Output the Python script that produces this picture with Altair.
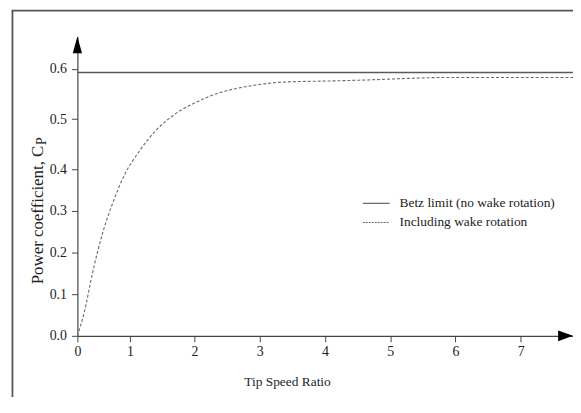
import altair as alt
import pandas as pd

# ---- data ----
tsr_wake = [0, 0.13, 0.29, 0.48, 0.67, 0.89, 1.14, 1.4, 1.7, 2.0, 2.4, 2.9, 3.4, 4.1, 4.65, 5.25, 5.9, 7.0, 7.8]
cp_wake = [0, 0.056, 0.152, 0.247, 0.318, 0.385, 0.435, 0.477, 0.510, 0.532, 0.553, 0.567, 0.574, 0.576, 0.578, 0.581, 0.583, 0.583, 0.583]
tsr_betz = [0, 7.8]
cp_betz = [0.593, 0.593]
series_names = ["Betz limit (no wake rotation)", "Including wake rotation"]
x_ticks = [0, 1, 2, 3, 4, 5, 6, 7]
y_ticks = [0.0, 0.1, 0.2, 0.3, 0.4, 0.5, 0.6]
x_title = "Tip Speed Ratio"
y_title_main = "Power coefficient, C"
y_title_sub = "P"

FONT = "Liberation Serif"
W, H = 500, 302

df = pd.concat([
    pd.DataFrame({"tsr": tsr_betz, "cp": cp_betz, "series": series_names[0], "order": range(len(tsr_betz))}),
    pd.DataFrame({"tsr": tsr_wake, "cp": cp_wake, "series": series_names[1], "order": range(len(tsr_wake))}),
])
one = pd.DataFrame({"k": [0]})

xscale = alt.Scale(domain=[0, 1, 2, 7.8], range=[0, 53, 118, W], nice=False, zero=False)
yscale = alt.Scale(domain=[0, 0.4, 0.6646], range=[H, 134, 0], nice=False, zero=False)

lines = alt.Chart(df).mark_line(interpolate="monotone").encode(
    x=alt.X("tsr:Q", scale=xscale,
            axis=alt.Axis(values=x_ticks, title=x_title, grid=False, labelFlush=False,
                          tickSize=6, labelPadding=3, titleX=211.5, titleY=50,
                          titleBaseline="alphabetic", titleAlign="center")),
    y=alt.Y("cp:Q", scale=yscale,
            axis=alt.Axis(values=y_ticks, format=".1f", title=None, grid=False, labelFlush=False,
                          tickSize=6, labelPadding=5)),
    detail="series:N",
    order="order:Q",
    strokeDash=alt.StrokeDash("series:N", scale=alt.Scale(domain=series_names, range=[[1, 0], [3, 2]]), legend=None),
    strokeWidth=alt.StrokeWidth("series:N", scale=alt.Scale(domain=series_names, range=[1.5, 1.1]), legend=None),
    color=alt.Color("series:N", scale=alt.Scale(domain=series_names, range=["#5a5a5a", "#6a6a6a"]), legend=None),
)

# arrows on the axes
arrow_y = alt.Chart(one).mark_point(shape="M -0.55 1 L 0 -1 L 0.55 1 Z", filled=True, color="#000", opacity=1, size=289, strokeWidth=0).encode(
    x=alt.value(0), y=alt.value(8.5))
arrow_x = alt.Chart(one).mark_point(shape="M -1 -0.73 L 1 0 L -1 0.73 Z", filled=True, color="#000", opacity=1, size=225, strokeWidth=0).encode(
    x=alt.value(W - 7.5), y=alt.value(H))

# frame (left and top lines)
frame_left = alt.Chart(one).mark_rule(color="#555", strokeWidth=1.8).encode(
    x=alt.value(-65.5), y=alt.value(-26), y2=alt.value(H + 80))
frame_top = alt.Chart(one).mark_rule(color="#555", strokeWidth=1.8).encode(
    x=alt.value(-66.4), x2=alt.value(W + 10), y=alt.value(-26))

# y title with subscript
ytitle = alt.Chart(one).mark_text(font=FONT, fontSize=17, angle=270, align="left", baseline="alphabetic", color="#222").encode(
    x=alt.value(-35), y=alt.value(250), text=alt.value(y_title_main))
ytitle_sub = alt.Chart(one).mark_text(font=FONT, fontSize=14, angle=270, align="left", baseline="alphabetic", color="#222").encode(
    x=alt.value(-32), y=alt.value(109.5), text=alt.value(y_title_sub))

# legend
leg_line1 = alt.Chart(one).mark_rule(color="#444", strokeWidth=1).encode(
    x=alt.value(288), x2=alt.value(315), y=alt.value(168.3))
leg_line2 = alt.Chart(one).mark_rule(color="#666", strokeWidth=1, strokeDash=[2, 1]).encode(
    x=alt.value(288), x2=alt.value(315), y=alt.value(187.7))
leg_text1 = alt.Chart(one).mark_text(font=FONT, fontSize=13.5, align="left", baseline="middle", color="#222").encode(
    x=alt.value(325), y=alt.value(168.5), text=alt.value(series_names[0]))
leg_text2 = alt.Chart(one).mark_text(font=FONT, fontSize=13.5, align="left", baseline="middle", color="#222").encode(
    x=alt.value(325), y=alt.value(187.5), text=alt.value(series_names[1]))

chart = alt.layer(
    frame_left, frame_top, lines, arrow_y, arrow_x, ytitle, ytitle_sub,
    leg_line1, leg_line2, leg_text1, leg_text2,
).properties(
    width=W, height=H,
    autosize=alt.AutoSizeParams(type="none"),
    padding={"left": 70, "top": 27, "right": 0, "bottom": 60},
).configure_view(stroke=None).configure_axis(
    domainColor="#444", domainWidth=1.2, tickColor="#444", tickWidth=1,
    labelFont=FONT, labelFontSize=14, labelColor="#222",
    titleFont=FONT, titleFontSize=13.5, titleFontWeight="normal", titleColor="#222",
)

chart.save("out.html", embed_options={"renderer": "svg", "actions": False})
